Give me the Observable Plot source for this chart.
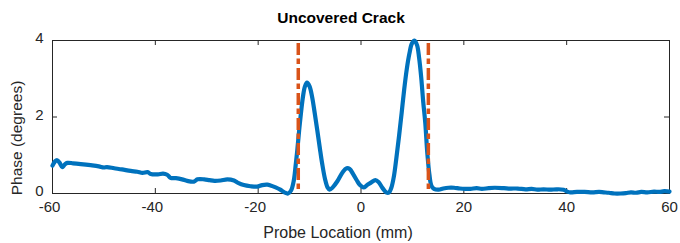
<!DOCTYPE html>
<html>
<head>
<meta charset="utf-8">
<script src="https://cdn.jsdelivr.net/npm/d3@7"></script>
<script src="https://cdn.jsdelivr.net/npm/@observablehq/plot@0.6"></script>
<style>
  html, body { margin: 0; padding: 0; background: #fff; }
  #chart svg { display: block; }
</style>
</head>
<body>
<div id="chart"></div>
<script>
const titleText = "Uncovered Crack";
const xLabel = "Probe Location (mm)";
const yLabel = "Phase (degrees)";
const xTicks = [-60, -40, -20, 0, 20, 40, 60];
const yTicks = [0, 2, 4];
const crackEdges = [-12.2, 13.1];

const probeX = [
  -60, -59.5, -59.1, -58.6, -58.1, -57.6, -57.1, -56.0, -54.5, -52.6,
  -51.0, -50.0, -49.4, -48.0, -46.5, -44.8, -43.5, -42.5, -41.5, -40.9,
  -39.5, -38.5, -37.7, -37.05, -36.0, -34.8, -33.8, -32.5, -31.8, -30.5,
  -29.5, -28.5, -27.3, -26.0, -24.7, -23.8, -22.8, -21.5, -20.2, -19.2,
  -18.2, -17.6, -16.6, -15.7, -14.9, -14.2, -13.6, -13.07, -12.7, -12.4,
  -11.9, -11.3, -10.9, -10.5, -10.0, -9.5, -9.0, -8.5, -8.0, -7.55,
  -7.0, -6.5, -6.1, -5.5, -4.6, -3.6, -2.8, -2.2, -1.5, -0.8,
  -0.2, 0.5, 1.2, 2.0, 2.8, 3.4, 4.2, 4.9, 5.4, 5.9,
  6.4, 6.9, 7.4, 7.9, 8.4, 8.9, 9.4, 9.9, 10.4, 10.9,
  11.3, 11.7, 12.1, 12.5, 12.9, 13.3, 13.7, 14.2, 15.1, 16.0,
  17.0, 18.1, 19.2, 20.3, 21.3, 22.5, 23.5, 24.8, 26.0, 27.8,
  29.0, 30.5, 32.0, 33.2, 34.3, 35.5, 36.8, 38.0, 39.4, 40.1,
  40.7, 42.0, 43.5, 45.0, 46.3, 47.2, 48.2, 49.3, 50.5, 51.5,
  52.5, 53.5, 54.5, 55.7, 57.0, 58.0, 59.0, 60.0
];
const phase = [
  0.73, 0.84, 0.87, 0.80, 0.69, 0.76, 0.80, 0.79, 0.77, 0.74,
  0.71, 0.68, 0.69, 0.66, 0.63, 0.59, 0.57, 0.54, 0.56, 0.51,
  0.50, 0.52, 0.49, 0.41, 0.40, 0.37, 0.33, 0.31, 0.37, 0.37,
  0.35, 0.33, 0.34, 0.37, 0.34, 0.27, 0.22, 0.19, 0.18, 0.22,
  0.23, 0.21, 0.16, 0.10, 0.03, 0.00, 0.08, 0.34, 0.75, 1.12,
  1.82, 2.52, 2.80, 2.90, 2.80, 2.52, 2.10, 1.65, 1.18, 0.78,
  0.38, 0.16, 0.10, 0.16, 0.32, 0.55, 0.66, 0.64, 0.50, 0.34,
  0.22, 0.16, 0.22, 0.29, 0.35, 0.30, 0.14, 0.03, 0.02, 0.15,
  0.45, 0.95, 1.50, 2.10, 2.72, 3.25, 3.65, 3.92, 4.00, 3.88,
  3.55, 3.05, 2.40, 1.85, 1.05, 0.50, 0.20, 0.12, 0.10, 0.13,
  0.15, 0.15, 0.13, 0.12, 0.12, 0.14, 0.12, 0.14, 0.15, 0.14,
  0.13, 0.13, 0.11, 0.12, 0.10, 0.11, 0.10, 0.11, 0.10, 0.05,
  0.03, 0.04, 0.04, 0.03, 0.04, 0.03, 0.02, 0.00, 0.00, 0.01,
  0.03, 0.02, 0.04, 0.03, 0.05, 0.04, 0.06, 0.05
];

const series = probeX.map((x, i) => ({x, y: phase[i]}));
const axisColor = "#262626";
const W = 680, H = 243;
const mTop = 40, mBottom = 50, mLeft = 52, mRight = 11;
const innerH = H - mTop - mBottom;
const innerW = W - mLeft - mRight;
const tickLen = 5;
const font = "Liberation Sans, Arial, Helvetica, sans-serif";
const fmt = d => String(d);

const chart = Plot.plot({
  width: W,
  height: H,
  marginTop: mTop,
  marginBottom: mBottom,
  marginLeft: mLeft,
  marginRight: mRight,
  style: {fontFamily: font, color: axisColor, background: "#fff"},
  x: {domain: [-60, 60]},
  y: {domain: [0, 4]},
  marks: [
    Plot.frame({stroke: axisColor, strokeWidth: 1}),
    // inward ticks bottom & top
    Plot.tickX(xTicks, {x: d => d, stroke: axisColor, insetTop: innerH - tickLen}),
    Plot.tickX(xTicks, {x: d => d, stroke: axisColor, insetBottom: innerH - tickLen}),
    // inward ticks left & right
    Plot.tickY(yTicks, {y: d => d, stroke: axisColor, insetRight: innerW - tickLen}),
    Plot.tickY(yTicks, {y: d => d, stroke: axisColor, insetLeft: innerW - tickLen}),
    Plot.axisX(xTicks.filter(d => d < 0), {anchor: "bottom", tickSize: 0, tickPadding: 8, fontSize: 15, label: null, fill: axisColor, tickFormat: fmt, dx: -3}),
    Plot.axisX(xTicks.filter(d => d >= 0), {anchor: "bottom", tickSize: 0, tickPadding: 8, fontSize: 15, label: null, fill: axisColor, tickFormat: fmt}),
    Plot.axisY(yTicks, {anchor: "left", tickSize: 0, tickPadding: 9, fontSize: 15, label: null, fill: axisColor, dy: -2, tickFormat: fmt}),
    Plot.line(series, {x: "x", y: "y", stroke: "#0072BD", strokeWidth: 4.2, curve: "catmull-rom", strokeLinejoin: "round", strokeLinecap: "round"}),
    Plot.ruleX(crackEdges, {x: d => d, stroke: "#D95319", strokeWidth: 3.5, strokeDasharray: "12,3.5,5.5,4", insetTop: 3}),
    Plot.text([titleText], {frameAnchor: "top", text: d => d, dx: -20, dy: -22, lineAnchor: "middle", textAnchor: "middle", fontSize: 15.5, fontWeight: "bold", fill: "#000"}),
    Plot.text([xLabel], {frameAnchor: "bottom", text: d => d, dx: -23, dy: 39, lineAnchor: "middle", textAnchor: "middle", fontSize: 16, fill: axisColor}),
    Plot.text([yLabel], {frameAnchor: "left", text: d => d, dx: -35, dy: 21, rotate: -90, lineAnchor: "middle", textAnchor: "middle", fontSize: 15.5, fill: axisColor})
  ]
});
document.getElementById("chart").appendChild(chart);
</script>
</body>
</html>
